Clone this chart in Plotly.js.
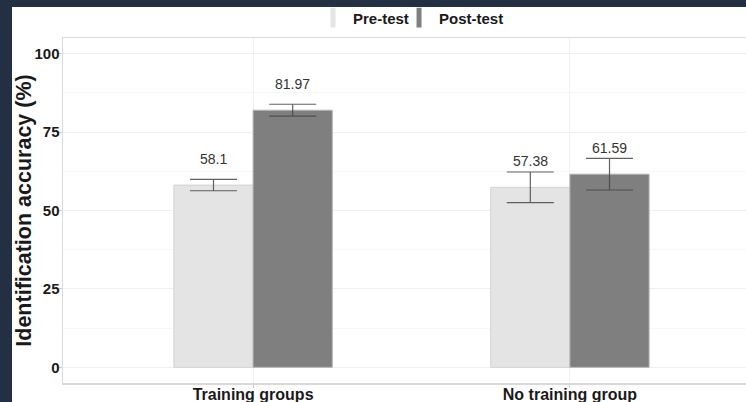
<!DOCTYPE html>
<html>
<head>
<meta charset="utf-8">
<script src="https://cdn.plot.ly/plotly-3.0.1.min.js"></script>
<style>
  html, body { margin: 0; padding: 0; background: #232f42; overflow: hidden; width: 746px; height: 402px; }
  #chart { position: absolute; left: 12px; top: 7px; width: 758px; height: 420px; background: #ffffff; }
</style>
</head>
<body>
<div id="chart"></div>
<script>
// ---- data ----
const categories = ["Training groups", "No training group"];
const seriesNames = ["Pre-test", "Post-test"];
const preValues = [58.1, 57.38];
const postValues = [81.97, 61.59];
const preErrors = [1.8, 4.9];
const postErrors = [1.9, 5.05];
const preLabels = ["58.1", "57.38"];
const postLabels = ["81.97", "61.59"];
const yTicks = [0, 25, 50, 75, 100];

// ---- style ----
const preColor = "#e4e4e4";
const postColor = "#7f7f7f";
const labelOffset = 8.3;
const barSlot = 0.25; // width of one bar in category units
const FONT = "Liberation Sans, Arial, sans-serif";

const errStyle = { type: "data", visible: true, color: "rgba(70,70,70,0.85)", thickness: 1.2, width: 23.5 };

const traces = [
  {
    type: "bar", name: seriesNames[0], x: categories, y: preValues, showlegend: false,
    marker: { color: preColor, line: { color: "#d2d2d2", width: 1 } },
    error_y: Object.assign({ array: preErrors }, errStyle),
    hoverinfo: "skip"
  },
  {
    type: "bar", name: seriesNames[1], x: categories, y: postValues, showlegend: false,
    marker: { color: postColor, line: { color: "#b5b5b5", width: 1 } },
    error_y: Object.assign({ array: postErrors }, errStyle),
    hoverinfo: "skip"
  },
  // legend keys (narrow upright swatches)
  {
    type: "scatter", mode: "markers", name: seriesNames[0], x: [null], y: [null], legend: "legend",
    marker: { symbol: "line-ns", size: 14, line: { color: preColor, width: 7 } }
  },
  {
    type: "scatter", mode: "markers", name: seriesNames[1], x: [null], y: [null], legend: "legend2",
    marker: { symbol: "line-ns", size: 14, line: { color: postColor, width: 7 } }
  }
];

const annotations = [];
categories.forEach((c, i) => {
  annotations.push({ xref: "x", yref: "y", x: i - barSlot / 2, y: preValues[i] + labelOffset,
    text: preLabels[i], showarrow: false, font: { family: FONT, size: 14, color: "#333333" } });
  annotations.push({ xref: "x", yref: "y", x: i + barSlot / 2, y: postValues[i] + labelOffset,
    text: postLabels[i], showarrow: false, font: { family: FONT, size: 14, color: "#333333" } });
});

const legendBase = {
  orientation: "h", xref: "container", yref: "container",
  xanchor: "left", y: 0.974, yanchor: "middle",
  font: { size: 15, color: "#1a1a1a", family: FONT, weight: "bold" },
  itemwidth: 30, bgcolor: "rgba(0,0,0,0)"
};

const layout = {
  width: 758, height: 420,
  margin: { l: 51, r: 10, t: 31, b: 44, pad: 0 },
  paper_bgcolor: "#ffffff", plot_bgcolor: "#ffffff",
  font: { family: FONT, color: "#1a1a1a" },
  barmode: "group", bargap: 0.5, bargroupgap: 0,
  showlegend: true,
  legend: Object.assign({}, legendBase, { x: 0.3971 }),
  legend2: Object.assign({}, legendBase, { x: 0.5106 }),
  xaxis: {
    type: "category", range: [-0.6, 1.6], fixedrange: true,
    showgrid: true, gridcolor: "#efefef", gridwidth: 1,
    showline: true, mirror: true, linecolor: "#d9d9d9", linewidth: 1.5,
    ticks: "outside", ticklen: 3, tickcolor: "#d0d0d0",
    tickfont: { size: 16, color: "#1a1a1a", weight: "bold" },
    ticklabelstandoff: -7,
    zeroline: false
  },
  yaxis: {
    range: [-5, 105], tickvals: yTicks, ticktext: yTicks.map(String), fixedrange: true,
    showgrid: true, gridcolor: "#efefef", gridwidth: 1,
    minor: { dtick: 12.5, tick0: 12.5, showgrid: true, gridcolor: "#f7f7f7", gridwidth: 1 },
    showline: true, mirror: true, linecolor: "#d9d9d9", linewidth: 1.5,
    ticks: "outside", ticklen: 3, tickcolor: "#d0d0d0",
    tickfont: { size: 15, color: "#1a1a1a", weight: "bold" },
    ticklabelstandoff: -4,
    zeroline: false,
    title: { text: "Identification accuracy (%)", font: { size: 21.5, color: "#1a1a1a", weight: "bold" }, standoff: 9 }
  },
  annotations: annotations
};

Plotly.newPlot("chart", traces, layout, { displayModeBar: false, staticPlot: true });
</script>
</body>
</html>
